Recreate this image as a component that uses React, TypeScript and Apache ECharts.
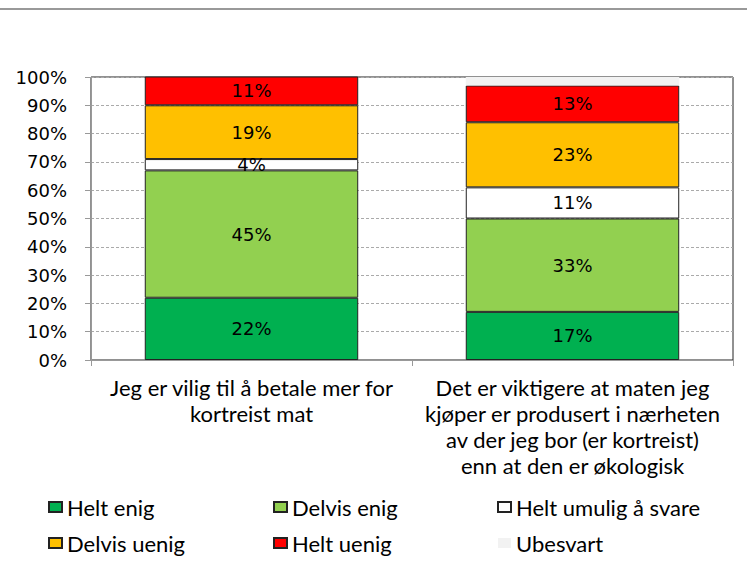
import React, { useEffect, useRef } from "react";
import * as echarts from "echarts";

const categories = [
  "Jeg er vilig til å betale mer for\nkortreist mat",
  "Det er viktigere at maten jeg\nkjøper er produsert i nærheten\nav der jeg bor (er kortreist)\nenn at den er økologisk",
];
const seriesNames = ["Helt enig", "Delvis enig", "Helt umulig å svare", "Delvis uenig", "Helt uenig", "Ubesvart"];
const heltEnig = [22, 17];
const delvisEnig = [45, 33];
const heltUmulig = [4, 11];
const delvisUenig = [19, 23];
const heltUenig = [11, 13];
const ubesvart = [0, 3];
const yTicks = [0, 10, 20, 30, 40, 50, 60, 70, 80, 90, 100];
const colors = ["#00b050", "#92d050", "#ffffff", "#ffc000", "#ff0000", "#f2f2f2"];

export default function App() {
  const ref = useRef<HTMLDivElement>(null);
  useEffect(() => {
    if (!ref.current) return;
    const chart = echarts.init(ref.current, undefined, { renderer: "svg" });
    const values = [heltEnig, delvisEnig, heltUmulig, delvisUenig, heltUenig, ubesvart];
    const series = seriesNames.map((name, i) => ({
      name,
      type: "bar",
      stack: "total",
      barWidth: "66.5%",
      data: values[i],
      itemStyle: {
        color: colors[i],
        borderColor: i === 5 ? "#f2f2f2" : "#222",
        borderWidth: i === 5 ? 0 : 1,
      },
      label: {
        show: i !== 5,
        position: "inside",
        formatter: (p: any) => (p.value > 0 ? p.value + "%" : ""),
        fontFamily: "DejaVu Sans",
        fontSize: 18,
        color: "#000",
      },
    }));
    const legendCol = (left: number, names: string[]) => ({
      orient: "vertical",
      left,
      top: 494,
      height: 70,
      padding: 0,
      itemWidth: 13,
      itemHeight: 10,
      itemGap: 10,
      icon: "rect",
      data: names,
      textStyle: { fontFamily: "Lato", fontSize: 22, color: "#000", lineHeight: 26, padding: [0, 0, 0, 0] },
    });
    chart.setOption({
      animation: false,
      graphic: [
        { type: "line", shape: { x1: 0, y1: 9, x2: 747, y2: 9 }, style: { stroke: "#999", lineWidth: 2 } },
      ],
      grid: { left: 91, right: 14, top: 77, bottom: 204, show: true, borderColor: "#222", borderWidth: 1, backgroundColor: "transparent" },
      legend: [
        legendCol(48, [seriesNames[0], seriesNames[3]]),
        legendCol(273, [seriesNames[1], seriesNames[4]]),
        legendCol(497, [seriesNames[2], seriesNames[5]]),
      ],
      xAxis: {
        type: "category",
        data: categories,
        axisLine: { lineStyle: { color: "#999" } },
        axisTick: { show: true, length: 6, lineStyle: { color: "#999" } },
        axisLabel: {
          interval: 0,
          margin: 14,
          fontFamily: "Lato",
          fontSize: 22,
          lineHeight: 26,
          color: "#000",
          align: "center",
        },
      },
      yAxis: {
        type: "value",
        min: 0,
        max: 100,
        interval: 10,
        axisLine: { show: true, lineStyle: { color: "#999" } },
        axisTick: { show: true, length: 6, lineStyle: { color: "#999" } },
        splitLine: { show: true, lineStyle: { color: "#aaa", type: [3, 2] } },
        axisLabel: {
          margin: 24,
          fontFamily: "DejaVu Sans",
          fontSize: 18,
          color: "#000",
          formatter: (v: number) => (yTicks.includes(v) ? v + "%" : ""),
        },
      },
      series,
    });
    return () => chart.dispose();
  }, []);
  return <div ref={ref} style={{ width: 747, height: 564, position: "absolute", left: 0, top: 0 }} />;
}
